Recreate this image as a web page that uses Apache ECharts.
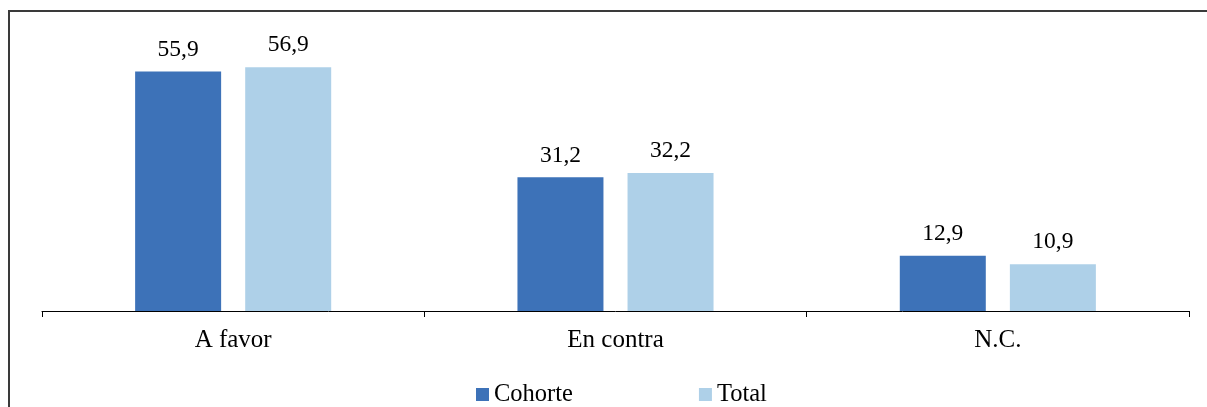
<!DOCTYPE html>
<html>
<head>
<meta charset="utf-8">
<script src="https://cdn.jsdelivr.net/npm/echarts@6/dist/echarts.min.js"></script>
<style>
  html, body { margin: 0; padding: 0; background: #fff; }
  #chart { width: 1207px; height: 407px; }
</style>
</head>
<body>
<div id="chart"></div>
<script>
const categories = ['A favor', 'En contra', 'N.C.'];
const cohorteValues = [55.9, 31.2, 12.9];
const totalValues = [56.9, 32.2, 10.9];

const serif = '"Liberation Serif", "DejaVu Serif", serif';
const fmt = p => String(p.value).replace('.', ',');

const chart = echarts.init(document.getElementById('chart'));
chart.setOption({
  animation: false,
  textStyle: { fontFamily: serif },
  graphic: [{
    type: 'rect',
    shape: { x: 9, y: 11, width: 1220, height: 420 },
    style: { fill: 'none', stroke: '#3a3a3a', lineWidth: 2 },
    silent: true
  }],
  grid: { left: 42, right: 18, top: 54, bottom: 96 },
  legend: {
    top: 382,
    left: 476,
    padding: 0,
    icon: 'rect',
    itemWidth: 13,
    itemHeight: 13,
    itemGap: 126,
    textStyle: { fontFamily: serif, fontSize: 24.5, color: '#000', padding: [0, 0, 0, 0] },
    data: ['Cohorte', 'Total']
  },
  xAxis: {
    type: 'category',
    data: categories,
    axisLine: { lineStyle: { color: '#000', width: 1 } },
    axisTick: { show: true, length: 6, lineStyle: { color: '#000' } },
    axisLabel: { fontFamily: serif, fontSize: 25, color: '#000', margin: 17 }
  },
  yAxis: {
    type: 'value',
    min: 0,
    max: 60,
    show: false,
    splitLine: { show: false }
  },
  series: [
    {
      name: 'Cohorte',
      type: 'bar',
      data: cohorteValues,
      barWidth: 86,
      barGap: '28%',
      itemStyle: { color: '#3d72b8' },
      label: { show: true, position: 'top', distance: 10, formatter: fmt,
               fontFamily: serif, fontSize: 23.5, color: '#000' }
    },
    {
      name: 'Total',
      type: 'bar',
      data: totalValues,
      barWidth: 86,
      itemStyle: { color: '#aed0e8' },
      label: { show: true, position: 'top', distance: 10, formatter: fmt,
               fontFamily: serif, fontSize: 23.5, color: '#000' }
    }
  ]
});
</script>
</body>
</html>
